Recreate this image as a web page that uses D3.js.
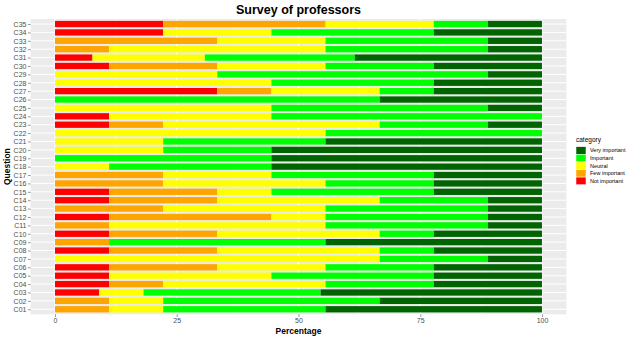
<!DOCTYPE html>
<html><head><meta charset="utf-8">
<script src="https://cdn.jsdelivr.net/npm/d3@7"></script>
<style>html,body{margin:0;padding:0;background:#fff;}svg{display:block;font-family:"Liberation Sans",Arial,Helvetica,sans-serif;}</style>
</head><body>
<svg id="chart" width="633" height="339"></svg>
<script>
const questions = ["C01","C02","C03","C04","C05","C06","C07","C08","C09","C10","C11","C12","C13","C14","C15","C16","C17","C18","C19","C20","C21","C22","C23","C24","C25","C26","C27","C28","C29","C30","C31","C32","C33","C34","C35"];
const categories = ["Not important","Few important","Neutral","Important","Very important"];
const colors = ["#FF0000","#FFA500","#FFFF00","#00FF00","#006400"];
const notImportant = [0,0,9.09,11.11,11.11,11.11,0,11.11,0,11.11,0,11.11,0,11.11,11.11,0,0,0,0,0,0,0,11.11,11.11,0,0,33.33,0,0,11.11,7.69,0,0,22.22,22.22];
const fewImportant = [11.11,11.11,0,11.11,0,22.22,0,22.22,11.11,22.22,11.11,33.33,22.22,22.22,22.22,22.22,22.22,0,0,0,0,0,11.11,0,0,0,11.11,0,0,22.22,0,11.11,33.33,0,33.33];
const neutral = [11.11,11.11,9.09,33.33,33.33,22.22,66.67,33.33,0,33.33,44.44,11.11,33.33,33.33,11.11,33.33,22.22,11.11,0,22.22,22.22,55.56,44.44,33.33,44.44,0,22.22,44.44,33.33,22.22,23.08,44.44,22.22,22.22,22.22];
const important = [33.33,44.44,36.36,22.22,33.33,22.22,22.22,11.11,44.44,11.11,33.33,33.33,33.33,22.22,33.33,22.22,33.33,33.33,44.44,22.22,33.33,44.44,22.22,55.56,44.44,66.67,11.11,33.33,55.56,22.22,30.77,33.33,33.33,33.33,11.11];
const veryImportant = [44.44,33.33,45.45,22.22,22.22,22.22,11.11,22.22,44.44,22.22,11.11,11.11,11.11,11.11,22.22,22.22,22.22,55.56,55.56,55.56,44.44,0,11.11,0,11.11,33.33,22.22,22.22,11.11,22.22,38.46,11.11,11.11,22.22,11.11];
const xTicks = [0,25,50,75,100];
const xMinor = [12.5,37.5,62.5,87.5];

const series = [notImportant,fewImportant,neutral,important,veryImportant];
const rows = questions.map((q,i)=>{const r={q}; categories.forEach((c,j)=>r[c]=series[j][i]); return r;});
const stacked = d3.stack().keys(categories)(rows);

const svg = d3.select("#chart");
const P = {l:30.65, r:566.35, t:19, b:314.3};
const x = d3.scaleLinear().domain([-5,105]).range([P.l,P.r]);
const y = d3.scalePoint().domain(questions).range([P.b,P.t]).padding(0.6);
const bh = y.step()*0.75;

svg.append("rect").attr("x",P.l).attr("y",P.t).attr("width",P.r-P.l).attr("height",P.b-P.t).attr("fill","#EBEBEB");
const g = svg.append("g");
g.selectAll(".mn").data(xMinor).join("line").attr("x1",d=>x(d)).attr("x2",d=>x(d)).attr("y1",P.t).attr("y2",P.b).attr("stroke","#fff").attr("stroke-width",0.5);
g.selectAll(".mj").data(xTicks).join("line").attr("x1",d=>x(d)).attr("x2",d=>x(d)).attr("y1",P.t).attr("y2",P.b).attr("stroke","#fff").attr("stroke-width",1);
g.selectAll(".hy").data(questions).join("line").attr("x1",P.l).attr("x2",P.r).attr("y1",d=>y(d)).attr("y2",d=>y(d)).attr("stroke","#fff").attr("stroke-width",1);

svg.append("g").selectAll("g").data(stacked).join("g").attr("fill",(d,i)=>colors[i])
  .selectAll("rect").data(d=>d).join("rect")
  .attr("x",d=>x(d[0])).attr("width",d=>Math.max(0,x(d[1])-x(d[0])))
  .attr("y",d=>y(d.data.q)-bh/2).attr("height",bh);

// axes
const xa = svg.append("g").attr("transform",`translate(0,${P.b})`).call(d3.axisBottom(x).tickValues(xTicks).tickSize(2.7).tickPadding(1.5));
const ya = svg.append("g").attr("transform",`translate(${P.l},0)`).call(d3.axisLeft(y).tickSize(2.7).tickPadding(1.5));
[xa,ya].forEach(a=>{a.select(".domain").remove(); a.selectAll("line").attr("stroke","#333").attr("stroke-width",0.5); a.selectAll("text").attr("fill","#4D4D4D").attr("font-size","7px").attr("font-family","Liberation Sans, Arial, sans-serif");});

svg.append("text").attr("x",(P.l+P.r)/2).attr("y",333.5).attr("text-anchor","middle").attr("font-size","8.5px").attr("font-weight","bold").text("Percentage");
svg.append("text").attr("transform",`translate(9.5,${(P.t+P.b)/2}) rotate(-90)`).attr("text-anchor","middle").attr("font-size","8.5px").attr("font-weight","bold").text("Question");
svg.append("text").attr("x",(P.l+P.r)/2).attr("y",13.5).attr("text-anchor","middle").attr("font-size","12.5px").attr("font-weight","bold").text("Survey of professors");

// legend
const lg = svg.append("g");
lg.append("text").attr("x",576).attr("y",142).attr("font-size","6.5px").text("category");
const legendOrder = categories.map((c,i)=>({c,col:colors[i]})).reverse();
const ly = d3.scaleBand().domain(legendOrder.map(d=>d.c)).range([146.7,184.7]);
lg.selectAll("rect").data(legendOrder).join("rect").attr("x",576).attr("y",d=>ly(d.c)).attr("width",10).attr("height",ly.bandwidth()).attr("fill",d=>d.col).attr("stroke","#fff").attr("stroke-width",0.5);
lg.selectAll(".lt").data(legendOrder).join("text").attr("x",590).attr("y",d=>ly(d.c)+ly.bandwidth()/2).attr("dy","0.35em").attr("font-size","5.5px").text(d=>d.c);
</script>
</body></html>
